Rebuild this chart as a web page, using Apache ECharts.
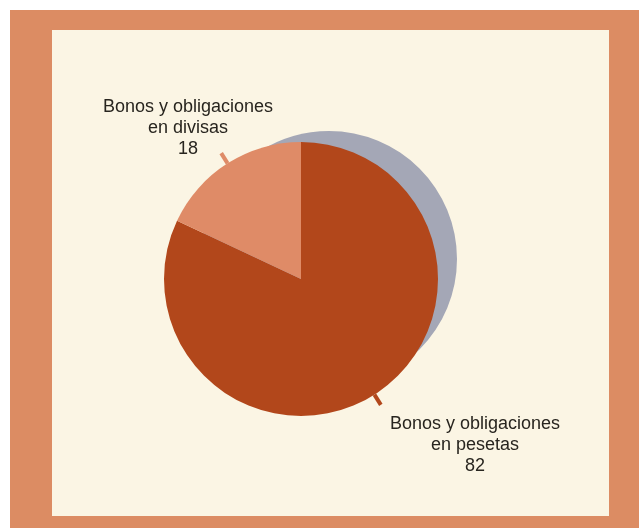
<!DOCTYPE html>
<html>
<head>
<meta charset="utf-8">
<script src="https://cdn.jsdelivr.net/npm/echarts@6/dist/echarts.min.js"></script>
<style>
  html, body { margin: 0; padding: 0; background: #ffffff; }
  #chart { width: 639px; height: 528px; }
</style>
</head>
<body>
<div id="chart"></div>
<script>
// Composition of bond holdings (percent)
const categories = ['Bonos y obligaciones\nen pesetas', 'Bonos y obligaciones\nen divisas'];
const values = [82, 18];
const sliceColors = ['#b2471b', '#df8b67'];
const shadowColor = '#a4a7b6';

// label anchor points (centre of each text block)
const labelAnchors = [[475, 445], [188, 128]];

const chart = echarts.init(document.getElementById('chart'), null, { renderer: 'canvas' });

const pieData = categories.map((name, i) => ({ name, value: values[i], itemStyle: { color: sliceColors[i] } }));
const shadowData = categories.map((name, i) => ({ name, value: values[i] }));

chart.setOption({
  backgroundColor: '#ffffff',
  animation: false,
  graphic: [
    { type: 'rect', z: -10, shape: { x: 10, y: 10, width: 629, height: 518 }, style: { fill: '#dc8c63' }, silent: true },
    { type: 'rect', z: -9, shape: { x: 52, y: 30, width: 557, height: 486 }, style: { fill: '#fbf5e4' }, silent: true }
  ],
  series: [
    {
      // offset grey disc giving the pie its shadow
      type: 'pie',
      silent: true,
      z: 1,
      center: [329, 259],
      radius: 128,
      startAngle: 90,
      clockwise: true,
      data: shadowData,
      itemStyle: { color: shadowColor },
      label: { show: false },
      labelLine: { show: false }
    },
    {
      type: 'pie',
      silent: true,
      z: 2,
      center: [301, 279],
      radius: 137,
      startAngle: 90,
      clockwise: true,
      data: pieData,
      label: {
        show: true,
        position: 'outside',
        formatter: '{b}\n{c}',
        fontFamily: '"Liberation Sans", Arial, sans-serif',
        fontSize: 18,
        lineHeight: 21,
        color: '#28251f'
      },
      labelLine: {
        show: true,
        length: 12,
        length2: 0,
        lineStyle: { width: 4 }
      },
      labelLayout: function (params) {
        const p = labelAnchors[params.dataIndex];
        return {
          x: p[0],
          y: p[1],
          align: 'center',
          verticalAlign: 'middle',
          labelLinePoints: params.labelLinePoints
        };
      }
    }
  ]
});
</script>
</body>
</html>
